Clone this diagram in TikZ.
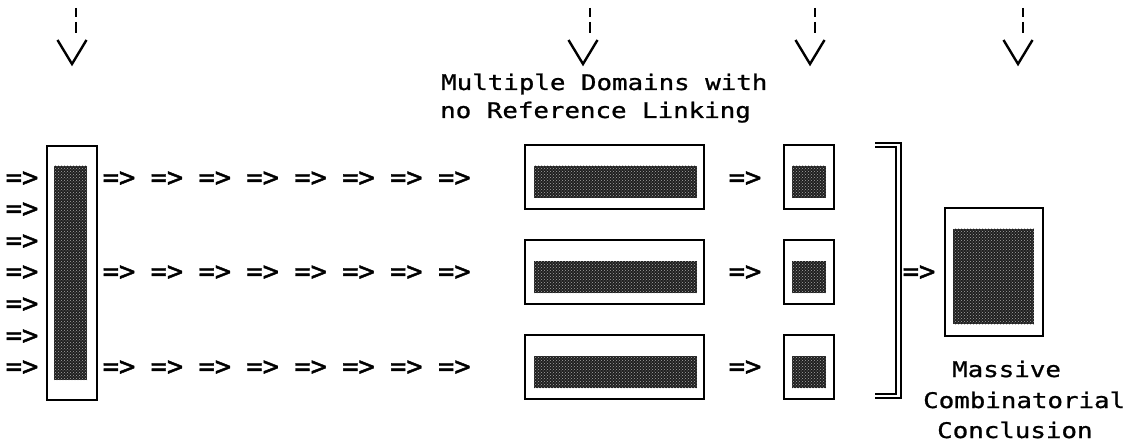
\documentclass[tikz,border=0pt]{standalone}
\usepackage{fontspec}
\newfontfamily\labfont{DejaVu Sans Mono}[FakeStretch=1.2, FakeBold=1]
\newfontfamily\arrfont{DejaVu Sans Mono}[FakeBold=1.5]
\usetikzlibrary{patterns}
\begin{document}
\begin{tikzpicture}[x=1pt,y=-1pt,
  txt/.style={font=\labfont\fontsize{21.5}{24}\selectfont, inner sep=0pt},
  arr/.style={font=\arrfont\fontsize{27}{27}\selectfont, inner sep=0pt},
  outerbox/.style={draw, line width=1.8pt, fill=white, inner sep=0pt},
  innerbox/.style={fill=black!88, inner sep=0pt, postaction={pattern=crosshatch dots, pattern color=black!35}},
  vline/.style={line width=2.4pt},
  brk/.style={line width=1.5pt}]
\useasboundingbox (0,0) rectangle (1139,446);
% top dashed V arrows
\foreach \bx/\dx in {72/76, 583/590, 810/815, 1018/1023} {
  \draw[vline] (\bx-14.5,40) -- (\bx,64) -- (\bx+14.5,40);
  \draw[vline] (\dx,8) -- (\dx,17);
  \draw[vline] (\dx,22) -- (\dx,33);
}
% label
\node[txt, anchor=base west] (t1) at (441,90) {Multiple Domains with};
\node[txt, anchor=base west] (t2) at (440,118) {no Reference Linking};
% left tall box
\node[outerbox, minimum width=50pt, minimum height=254pt] (L) at (72,273) {};
\node[innerbox, minimum width=33pt, minimum height=214pt] (Li) at (70.5,273) {};
% left input arrows
\foreach \y [count=\k] in {179,210,242,273,305,337,368}
  \node[arr] (l\k) at (22,\y) {=>};
% rows
\foreach \r/\T/\y in {1/145/179, 2/240/273, 3/335/368} {
  \foreach \i in {0,...,7}
    \node[arr] (a\r-\i) at ({119+47.9*\i},\y) {=>};
  \node[outerbox, minimum width=179pt, minimum height=64pt] (M\r) at (614.5,{\T+32}) {};
  \node[innerbox, minimum width=163pt, minimum height=32pt] (Mi\r) at (615.5,{\T+37}) {};
  \node[arr] (m\r) at (745,\y) {=>};
  \node[outerbox, minimum width=50pt, minimum height=64pt] (S\r) at (809,{\T+32}) {};
  \node[innerbox, minimum width=34pt, minimum height=32pt] (Si\r) at (809,{\T+37}) {};
}
% bracket
\draw[brk] (875,143) -- (901,143) -- (901,398) -- (875,398);
\draw[brk] (875,147) -- (896,147) -- (896,394) -- (875,394);
\node[arr] (c) at (919,273) {=>};
% big box
\node[outerbox, minimum width=98pt, minimum height=128pt] (B) at (994,272) {};
\node[innerbox, minimum width=81pt, minimum height=95pt] (Bi) at (993.5,276.5) {};
% conclusion label
\node[txt, anchor=base west] (c1) at (952,377) {Massive};
\node[txt, anchor=base west] (c2) at (923,408) {Combinatorial};
\node[txt, anchor=base west] (c3) at (937,438) {Conclusion};
\end{tikzpicture}
\end{document}
